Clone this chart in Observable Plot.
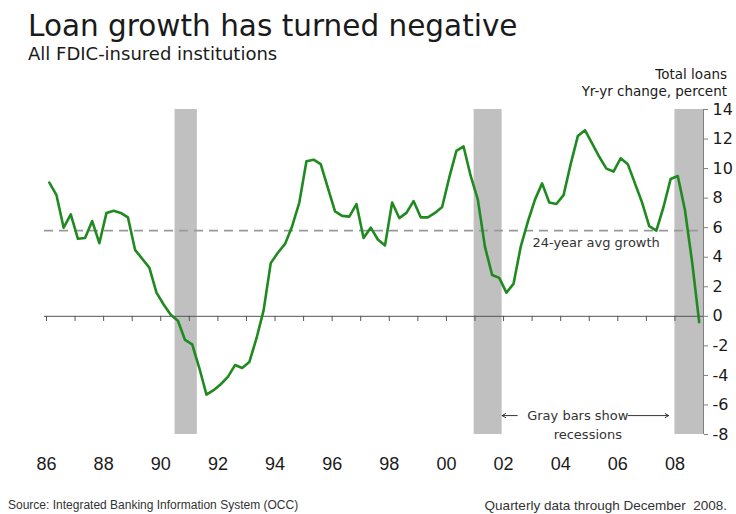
<!DOCTYPE html>
<html>
<head>
<meta charset="utf-8">
<script src="https://cdn.jsdelivr.net/npm/d3@7"></script>
<script src="https://cdn.jsdelivr.net/npm/@observablehq/plot@0.6"></script>
<style>
  html, body { margin: 0; padding: 0; background: #fff; }
  #wrap { position: relative; width: 736px; height: 514px; overflow: hidden; font-family: "DejaVu Sans", sans-serif; color: #1a1a1a; }
  .abs { position: absolute; white-space: nowrap; line-height: 1; }
  #title { left: 28px; top: 12px; font-size: 29.5px; }
  #subtitle { left: 28px; top: 45px; font-size: 18px; }
  #unit { right: 9px; top: 66px; font-size: 13.5px; text-align: right; line-height: 17px; }
  .cap { top: 499px; font-family: "Liberation Sans", sans-serif; color: #333; }
  #chart { position: absolute; left: 0; top: 0; }
</style>
</head>
<body>
<div id="wrap">
  <div id="chart"></div>
  <div class="abs" id="title">Loan growth has turned negative</div>
  <div class="abs" id="subtitle">All FDIC-insured institutions</div>
  <div class="abs" id="unit">Total loans<br>Yr-yr change, percent</div>
  <div class="abs cap" style="left:8px; font-size:12px">Source: Integrated Banking Information System (OCC)</div>
  <div class="abs cap" style="right:9px; font-size:13.5px">Quarterly data through December&nbsp; 2008.</div>
</div>
<script>
// Quarterly total-loan growth, yr-yr % change, 1986Q1 .. 2008Q4
const firstYear = 1986;
const growth = [
  9.05, 8.2, 6.0, 6.9, 5.25, 5.3, 6.45, 4.95, 7.0, 7.15,
  7.0, 6.7, 4.5, 3.9, 3.3, 1.6, 0.8, 0.1, -0.3, -1.6,
  -1.9, -3.5, -5.3, -5.0, -4.6, -4.1, -3.3, -3.5, -3.1, -1.5,
  0.4, 3.6, 4.3, 4.9, 6.1, 7.7, 10.5, 10.6, 10.3, 8.7,
  7.1, 6.8, 6.75, 7.6, 5.3, 6.0, 5.2, 4.8, 7.7, 6.65,
  7.0, 7.8, 6.7, 6.7, 7.0, 7.4, 9.4, 11.2, 11.5, 9.5,
  7.9, 4.7, 2.8, 2.6, 1.6, 2.2, 4.7, 6.4, 7.9, 9.0,
  7.7, 7.6, 8.2, 10.3, 12.2, 12.6, 11.7, 10.8, 10.0, 9.8,
  10.7, 10.3, 9.0, 7.7, 6.1, 5.8, 7.4, 9.3, 9.5, 7.2,
  3.7, -0.4
];
const avgGrowth = 5.8;
const recessionStart = [1990.5, 2000.97, 2008.0];
const recessionEnd = [1991.28, 2001.95, 2009.0];
const xTickYears = [1986, 1988, 1990, 1992, 1994, 1996, 1998, 2000, 2002, 2004, 2006, 2008];
const xTickLabels = ["86", "88", "90", "92", "94", "96", "98", "00", "02", "04", "06", "08"];
const minorYears = d3.range(1986, 2009);
const yTicks = [-8, -6, -4, -2, 0, 2, 4, 6, 8, 10, 12, 14];

const series = growth.map((v, i) => ({date: firstYear + 0.1 + i * 0.25, value: v}));
const recessions = recessionStart.map((s, i) => ({x1: s, x2: recessionEnd[i]}));

const xMin = 1985.93, xMax = 2009.0;

const chart = Plot.plot({
  width: 736,
  height: 480,
  marginTop: 109,
  marginBottom: 46,
  marginLeft: 44,
  marginRight: 33,
  style: {fontFamily: "DejaVu Sans, sans-serif", background: "transparent", color: "#1a1a1a"},
  x: {domain: [xMin, xMax]},
  y: {domain: [-8, 14]},
  marks: [
    Plot.rect(recessions, {x1: "x1", x2: "x2", y1: -8, y2: 14, fill: "#c0c0c0"}),
    Plot.ruleY([avgGrowth], {stroke: "#999", strokeWidth: 1.6, strokeDasharray: "9,6"}),
    Plot.ruleY([0], {stroke: "#555", strokeWidth: 1}),
    Plot.ruleX(minorYears, {x: d => d, y1: 0, y2: -0.35, stroke: "#555", strokeWidth: 1}),
    Plot.ruleX([xMax], {y1: -8, y2: 14, stroke: "#808080", strokeWidth: 1}),
    Plot.line(series, {x: "date", y: "value", stroke: "#1f8a1f", strokeWidth: 2.6, strokeLinejoin: "round"}),
    Plot.text(["24-year avg growth"], {x: 2005.24, y: 4.95, text: d => d, fontSize: 13, fill: "#333"}),
    Plot.text(["Gray bars show"], {x: 2004.6, y: -6.72, text: d => d, fontSize: 13, fill: "#333"}),
    Plot.text(["recessions"], {x: 2004.95, y: -8.0, text: d => d, fontSize: 13, fill: "#333"}),
    Plot.arrow([0], {x1: 2002.48, x2: 2001.95, y1: -6.72, y2: -6.72, stroke: "#333", strokeWidth: 1, headLength: 6}),
    Plot.arrow([0], {x1: 2006.36, x2: 2007.78, y1: -6.72, y2: -6.72, stroke: "#333", strokeWidth: 1, headLength: 6}),
    Plot.axisY({anchor: "right", label: null, ticks: yTicks, tickFormat: d => String(d), tickSize: 4, tickPadding: 5, fontSize: 16, stroke: "#808080"}),
    Plot.axisX({anchor: "bottom", label: null, ticks: xTickYears, tickFormat: d => xTickLabels[xTickYears.indexOf(d)], tickSize: 0, tickPadding: 23, fontSize: 18, fontFamily: "Liberation Sans, sans-serif"})
  ]
});
document.getElementById("chart").appendChild(chart);
</script>
</body>
</html>
